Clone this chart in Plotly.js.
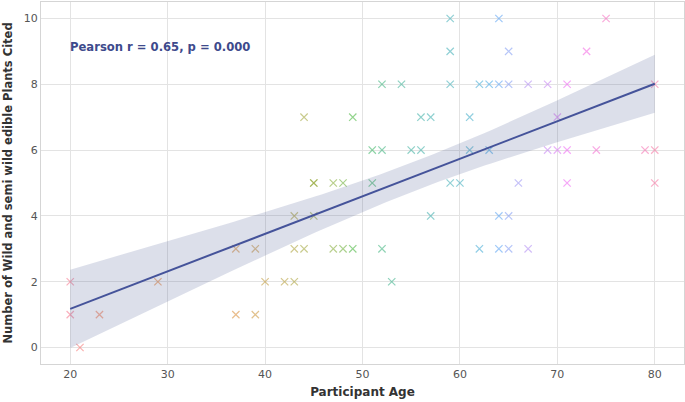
<!DOCTYPE html>
<html><head><meta charset="utf-8">
<script src="https://cdn.plot.ly/plotly-3.0.1.min.js"></script>
<style>html,body{margin:0;padding:0;background:#fff}#chart{width:685px;height:402px}</style>
</head><body><div id="chart"></div>
<script>
// ---- data ----
const ages = [20,20,21,23,29,
  37,37,39,39,40,42,43,
  43,43,44,44,45,45,45,47,48,47,48,49,49,
  51,51,52,52,52,53,54,55,56,56,57,57,
  59,59,59,59,60,61,61,62,62,63,63,64,65,64,64,64,65,65,65,66,67,67,69,69,70,70,71,71,71,73,74,75,79,80,80,80];
const plants = [2,1,0,1,2,
  3,1,3,1,2,2,2,
  4,3,3,7,5,5,4,5,5,3,3,3,7,
  6,5,6,8,3,2,8,6,6,7,7,4,
  10,9,8,5,5,7,6,8,3,6,8,8,8,10,4,3,9,4,3,5,8,3,8,6,7,6,8,6,5,9,6,10,6,6,8,5];
const xTicks = [20,30,40,50,60,70,80];
const yTicks = [0,2,4,6,8,10];
const annotationText = "Pearson r = 0.65, p = 0.000";

// ---- HUSL (seaborn husl_palette) ----
const M = [[3.2406,-1.5372,-0.4986],[-0.9689,1.8758,0.0415],[0.0557,-0.2040,1.0570]];
const refU = 0.19784, refV = 0.46834, kappa = 903.3, eps = 0.008856;
function maxChroma(L,H){
  const hr = H*Math.PI/180, sinH=Math.sin(hr), cosH=Math.cos(hr);
  const sub1 = Math.pow(L+16,3)/1560896, sub2 = sub1>eps?sub1:L/kappa;
  let res = Infinity;
  for (const [m1,m2,m3] of M){
    const top = (0.99915*m1+1.05122*m2+1.14460*m3)*sub2;
    const rb = 0.86330*m3-0.17266*m2, lb = 0.12949*m3-0.38848*m1;
    const bottom = (rb*sinH+lb*cosH)*sub2;
    for (const t of [0,1]){
      const C = L*(top-1.05122*t)/(bottom+0.17266*sinH*t);
      if (C>0 && C<res) res=C;
    }
  }
  return res;
}
function huslToRgb(H,S,L){
  const C = maxChroma(L,H)/100*S;
  const hr = H*Math.PI/180, U=C*Math.cos(hr), V=C*Math.sin(hr);
  const t=(L+16)/116, varY = Math.pow(t,3)>eps?Math.pow(t,3):(116*t-16)/kappa;
  const vu=U/(13*L)+refU, vv=V/(13*L)+refV;
  const Y=varY, X=-(9*Y*vu)/((vu-4)*vv-vu*vv), Z=(9*Y-15*vv*Y-vv*X)/(3*vv);
  return M.map(r=>{let c=r[0]*X+r[1]*Y+r[2]*Z; c = c<=0.0031308?12.92*c:1.055*Math.pow(c,1/2.4)-0.055; return Math.round(Math.min(1,Math.max(0,c))*255);});
}
const uniq = [...new Set(ages)].sort((a,b)=>a-b);
const n = uniq.length;
const colorOf = {};
uniq.forEach((a,i)=>{const h=((i/n)+0.01)%1*359; const [r,g,b]=huslToRgb(h,0.9*99,0.65*99); colorOf[a]=`rgb(${r},${g},${b})`;});
const colors = ages.map(a=>colorOf[a]);

// ---- regression & 95% CI ----
const N = ages.length;
const mx = ages.reduce((s,v)=>s+v,0)/N, my = plants.reduce((s,v)=>s+v,0)/N;
let sxx=0,sxy=0; for(let i=0;i<N;i++){sxx+=(ages[i]-mx)**2; sxy+=(ages[i]-mx)*(plants[i]-my);}
const slope=sxy/sxx, icpt=my-slope*mx;
let sse=0; for(let i=0;i<N;i++){sse+=(plants[i]-icpt-slope*ages[i])**2;}
const s = Math.sqrt(sse/(N-2)), tval = 1.994;
const xmin=Math.min(...ages), xmax=Math.max(...ages);
const gx=[],gy=[],gu=[],gl=[];
for(let k=0;k<=100;k++){const x=xmin+(xmax-xmin)*k/100; const y=icpt+slope*x; const se=s*Math.sqrt(1/N+(x-mx)**2/sxx); gx.push(x);gy.push(y);gu.push(y+tval*se);gl.push(y-tval*se);}

const traces = [
  {x:ages,y:plants,mode:'markers',type:'scatter',hoverinfo:'skip',
   marker:{symbol:'x-thin',size:7.3,color:colors,opacity:0.55,line:{width:1.2,color:colors}}},
  {x:gx,y:gu,mode:'lines',line:{width:0,color:'rgba(0,0,0,0)'},hoverinfo:'skip'},
  {x:gx,y:gl,mode:'lines',fill:'tonexty',fillcolor:'rgba(80,95,150,0.2)',line:{width:0,color:'rgba(0,0,0,0)'},hoverinfo:'skip'},
  {x:gx,y:gy,mode:'lines',line:{width:2,color:'#45539a'},hoverinfo:'skip'}
];
const layout = {
  width:685,height:402,showlegend:false,
  paper_bgcolor:'#fff',plot_bgcolor:'#fff',
  font:{family:'DejaVu Sans',size:11,color:'#555'},
  margin:{l:41,r:1,t:2,b:38},
  xaxis:{range:[17,83],tickvals:xTicks,ticktext:xTicks.map(String),showgrid:true,gridcolor:'#e3e3e3',gridwidth:1,
    zeroline:false,showline:true,linecolor:'#d5d5d5',mirror:true,ticks:'',ticklen:0,
    tickfont:{size:11,color:'#555'},
    title:{text:'<b>Participant Age</b>',font:{size:12,color:'#333'},standoff:7}},
  yaxis:{range:[-0.5,10.5],tickvals:yTicks,ticktext:yTicks.map(String),showgrid:true,gridcolor:'#e3e3e3',gridwidth:1,
    zeroline:false,showline:true,linecolor:'#d5d5d5',mirror:true,ticks:'',
    tickfont:{size:11,color:'#555'},
    title:{text:'<b>Number of Wild and semi wild edible Plants Cited</b>',font:{size:11.5,color:'#333'},standoff:8}},
  annotations:[{xref:'paper',yref:'paper',x:0.042,y:0.875,xanchor:'left',yanchor:'middle',showarrow:false,
    text:'<b>'+annotationText+'</b>',font:{size:11.6,color:'#3e4a8c'}}]
};
Plotly.newPlot('chart',traces,layout,{staticPlot:true,displayModeBar:false});
</script></body></html>
